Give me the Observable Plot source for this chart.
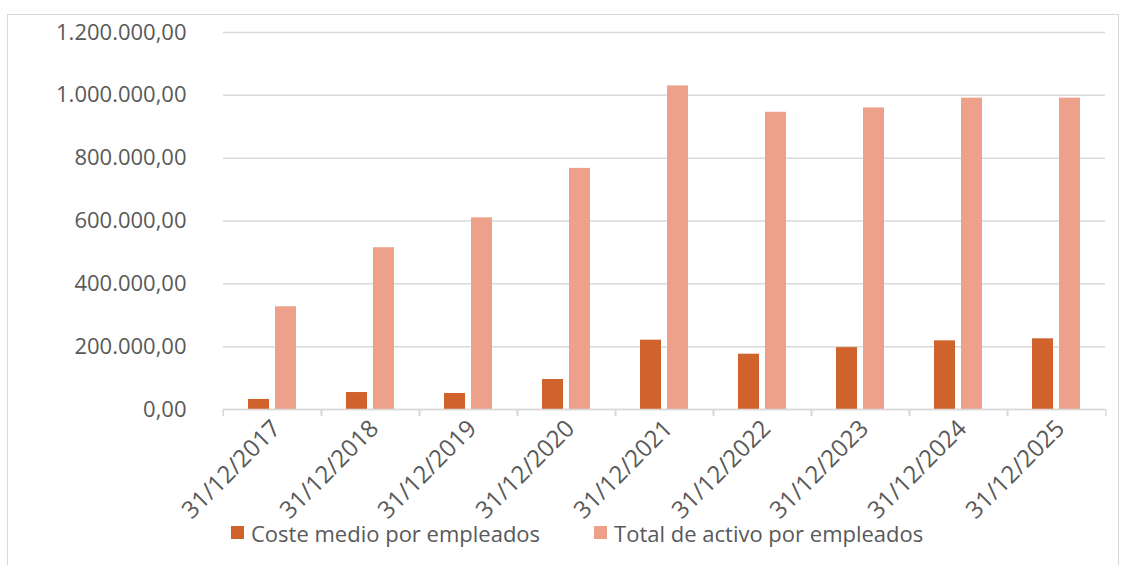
<!DOCTYPE html>
<html><head><meta charset="utf-8">
<script src="https://cdn.jsdelivr.net/npm/d3@7"></script>
<script src="https://cdn.jsdelivr.net/npm/@observablehq/plot@0.6"></script>
<style>
html,body{margin:0;padding:0;background:#fff;}
#frame{position:absolute;left:7px;top:14px;width:1110px;height:560px;border:1px solid #d9d9d9;border-bottom:none;font-family:"Open Sans",sans-serif;}
#frame svg{overflow:visible;}
.lg-swatches{margin:-6px 0 0 223px !important;font-family:"Open Sans",sans-serif !important;font-size:22px !important;color:#595959 !important;line-height:24px;}
.lg-swatch{margin-right:54px !important;}
.lg-swatch > svg{margin-right:7px !important;}
</style></head><body><div id="frame"></div>
<script>
const dates = ["31/12/2017","31/12/2018","31/12/2019","31/12/2020","31/12/2021","31/12/2022","31/12/2023","31/12/2024","31/12/2025"];
const coste = [32000, 54000, 51000, 95500, 220700, 176000, 197000, 218500, 225000];
const total = [327000, 515000, 610000, 767500, 1030000, 946000, 960000, 991000, 991000];
const series = ["Coste medio por empleados", "Total de activo por empleados"];
const colors = ["#D0632B", "#EDA18A"];
const yTicks = [0, 200000, 400000, 600000, 800000, 1000000, 1200000];

const data = dates.flatMap((d, i) => [
  {date: d, series: series[0], value: coste[i]},
  {date: d, series: series[1], value: total[i]}
]);
const loc = d3.formatLocale({decimal: ",", thousands: ".", grouping: [3], currency: ["", "€"]});
const fmt = loc.format(",.2f");
const blank = () => "";

const chart = Plot.plot({
  width: 1110, height: 507,
  marginLeft: 212, marginRight: 10, marginTop: 17, marginBottom: 113,
  style: {fontFamily: "Open Sans", fontSize: "22px", color: "#595959", background: "transparent"},
  fx: {domain: dates, padding: 0, label: null},
  x: {domain: series, paddingInner: 0.214, paddingOuter: 0.866, axis: null},
  y: {domain: [0, 1200000], label: null},
  color: {domain: series, range: colors},
  marks: [
    Plot.gridY(yTicks, {stroke: "#d9d9d9", strokeOpacity: 1, strokeWidth: 1.5}),
    Plot.axisY(yTicks, {tickSize: 0, tickPadding: 37, tickFormat: fmt, label: null, fill: "#595959"}),
    Plot.barY(data, {fx: "date", x: "series", y: "value", fill: "series"}),
    Plot.ruleY([0], {stroke: "#d9d9d9", strokeWidth: 1.5}),
    Plot.axisFx({anchor: "bottom", tickSize: 0, tickRotate: -45, tickPadding: 15, dx: 4, fontSize: 24, label: null, fill: "#595959"}),
    Plot.axisFx({anchor: "bottom", tickSize: 7, tickFormat: blank, label: null, dx: -49.33, stroke: "#d9d9d9", strokeWidth: 1.5}),
    Plot.axisFx([dates[dates.length - 1]], {anchor: "bottom", tickSize: 7, tickFormat: blank, label: null, dx: 49.33, stroke: "#d9d9d9", strokeWidth: 1.5})
  ]
});
const frame = document.getElementById("frame");
frame.appendChild(chart);
const legend = chart.legend("color", {swatchSize: 13, className: "lg"});
frame.appendChild(legend);
</script>
</body></html>
